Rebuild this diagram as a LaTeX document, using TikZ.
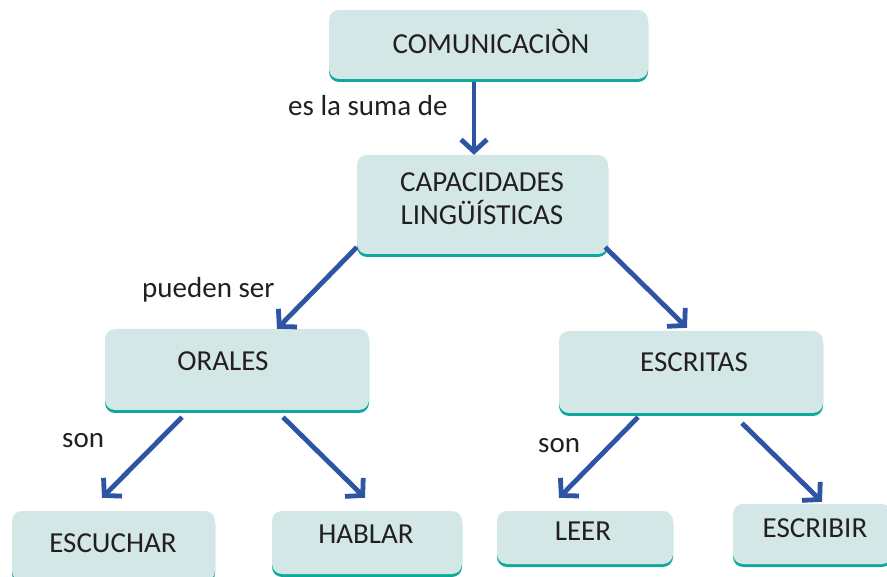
\documentclass[tikz,border=0pt]{standalone}
\usepackage{fontspec}
\setmainfont{Carlito}
\usetikzlibrary{arrows.meta,shadows}
\definecolor{boxfill}{RGB}{211,232,230}
\definecolor{boxedge}{RGB}{16,168,154}
\definecolor{arrowblue}{RGB}{46,84,164}
\definecolor{txtc}{RGB}{35,31,32}
\begin{document}
\begin{tikzpicture}[x=1pt,y=-1pt,
  box/.style={rectangle, rounded corners=10pt, fill=boxfill, draw=none, inner sep=0pt,
    drop shadow={shadow xshift=0pt, shadow yshift=-3pt, fill=boxedge, opacity=1}},
  lbl/.style={text=txtc, font=\fontsize{29}{34}\selectfont, inner sep=0pt},
  arr/.style={draw=arrowblue, line width=4.8pt,
    -{Straight Barb[length=12pt,width=26pt,line cap=butt,line join=miter]}}]
\useasboundingbox (0,0) rectangle (887,577);
\fill[white] (0,0) rectangle (887,577);
% boxes
\node[box, minimum width=319pt, minimum height=69pt] (com) at (488.5,44.5) {};
\node[box, minimum width=251pt, minimum height=99pt] (cap) at (482.5,204.5) {};
\node[box, minimum width=264pt, minimum height=81pt] (ora) at (237,369.5) {};
\node[box, minimum width=264pt, minimum height=82pt] (esc) at (691,372) {};
\node[box, minimum width=203pt, minimum height=70pt] (escu) at (113.5,546) {};
\node[box, minimum width=190pt, minimum height=63pt] (hab) at (367,542.5) {};
\node[box, minimum width=176pt, minimum height=53pt] (leer) at (585,537.5) {};
\node[box, minimum width=159pt, minimum height=60pt] (escr) at (812.5,534) {};
% box texts
\node[lbl, anchor=base] (comt) at (491,54) {COMUNICACIÒN};
\node[lbl, anchor=base] (capt1) at (482,192) {CAPACIDADES};
\node[lbl, anchor=base] (capt2) at (482,225) {LINGÜÍSTICAS};
\node[lbl, anchor=base] (orat) at (223,371) {ORALES};
\node[lbl, anchor=base] (esct) at (694,372) {ESCRITAS};
\node[lbl, anchor=base] (escut) at (113,552) {ESCUCHAR};
\node[lbl, anchor=base] (habt) at (366,543) {HABLAR};
\node[lbl, anchor=base] (leert) at (583,540) {LEER};
\node[lbl, anchor=base] (escrt) at (815,537) {ESCRIBIR};
% connector labels
\node[lbl, anchor=base west] (l1) at (288,116) {es la suma de};
\node[lbl, anchor=base west] (l2) at (142,298) {pueden ser};
\node[lbl, anchor=base west] (l3) at (62,447) {son};
\node[lbl, anchor=base west] (l4) at (538,453) {son};
% connectors
\draw[arr] ([xshift=-14.5pt]com.south) ++(0,3) -- ([xshift=-14.5pt]com.south |- cap.north);
\draw[arr] ([yshift=7pt]cap.south west) -- ([xshift=40pt]ora.north);
\draw[arr] ([shift={(-3pt,7pt)}]cap.south east) -- ([shift={(-4pt,3pt)}]esc.north);
\draw[arr] ([shift={(-55pt,-7pt)}]ora.south) -- ([shift={(-11.5pt,13pt)}]escu.north);
\draw[arr] ([shift={(46pt,-7pt)}]ora.south) -- ([shift={(-2pt,13pt)}]hab.north);
\draw[arr] ([shift={(-53pt,-4pt)}]esc.south) -- ([shift={(-26pt,13pt)}]leer.north);
\draw[arr] ([shift={(51pt,-10pt)}]esc.south) -- ([shift={(9.5pt,2pt)}]escr.north);
\end{tikzpicture}
\end{document}
